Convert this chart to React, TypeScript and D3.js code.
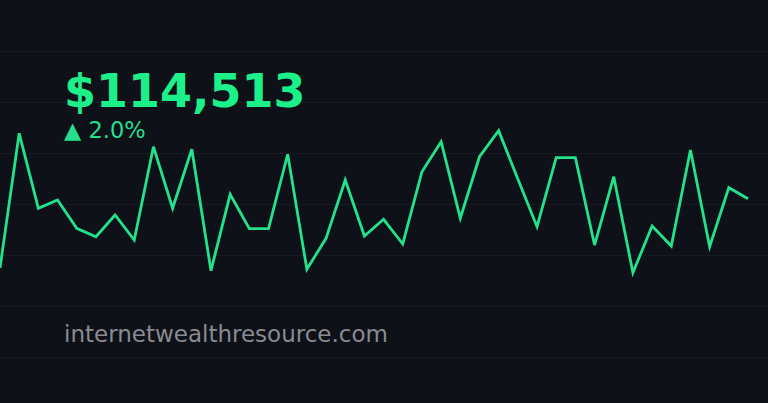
import React from "react";
import * as d3 from "d3";

const W = 768;
const H = 403;

const prices = [
  2745, 5386, 3916, 4078, 3524, 3359, 3784, 3294, 5124, 3916,
  5073, 2692, 4190, 3516, 3516, 4975, 2720, 3327, 4471, 3373,
  3700, 3216, 4633, 5222, 3720, 4927, 5437, 4490, 3555, 4908,
  4908, 3196, 4535, 2653, 3569, 3176, 5059, 3163, 4320, 4104,
];
const gridValues = [1000, 2000, 3000, 4000, 5000, 6000, 7000];
const headline = "$114,513";
const change = "▲ 2.0%";
const watermark = "internetwealthresource.com";

export default function App() {
  const x = d3.scaleLinear().domain([0, prices.length - 1]).range([0, 748]);
  const y = d3.scaleLinear().domain([0, 8000]).range([408, 0]);
  const line = d3
    .line<number>()
    .x((_, i) => x(i))
    .y((d) => y(d));

  return (
    <svg
      width={W}
      height={H}
      style={{ position: "absolute", left: 0, top: 0, display: "block" }}
      fontFamily="DejaVu Sans"
    >
      <rect width={W} height={H} fill="#0e1118" />
      {gridValues.map((g) => (
        <line
          key={g}
          x1={0}
          x2={W}
          y1={Math.round(y(g)) + 0.5}
          y2={Math.round(y(g)) + 0.5}
          stroke="#161a22"
          strokeWidth={1}
        />
      ))}
      <path d={line(prices) || ""} fill="none" stroke="#22e38c" strokeWidth={2.8} />
      <text x={64} y={107} fontSize={46} fontWeight="bold" fill="#1cf08b">
        {headline}
      </text>
      <text x={64} y={138} fontSize={22.5} fill="#27de8e">
        {change}
      </text>
      <text x={64} y={342} fontSize={23} fill="#8a8b90">
        {watermark}
      </text>
    </svg>
  );
}
